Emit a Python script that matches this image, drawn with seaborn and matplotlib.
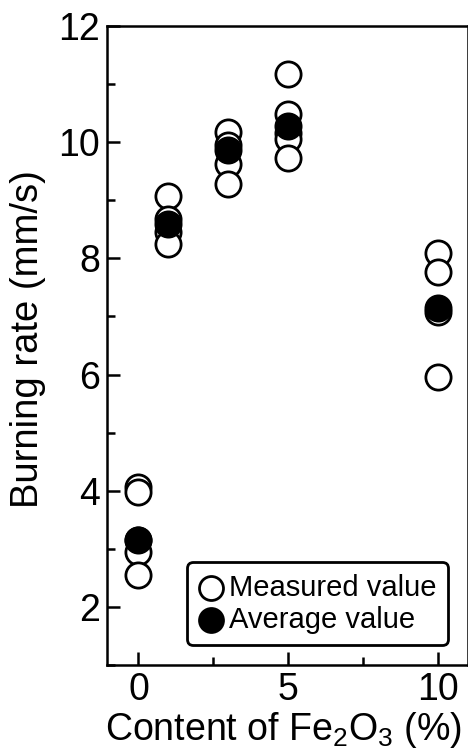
import matplotlib
matplotlib.use("Agg")
import matplotlib.pyplot as plt
from matplotlib.ticker import MultipleLocator
import seaborn as sns
import pandas as pd

# Fe2O3 content (%) and burning rates (mm/s)
content = [0, 1, 3, 5, 10]
measured = {
    0: [4.06, 3.98, 3.15, 2.95, 2.55],
    1: [9.08, 8.68, 8.45, 8.25],
    3: [10.18, 9.95, 9.63, 9.28],
    5: [11.17, 10.49, 10.15, 10.05, 9.72],
    10: [8.10, 7.77, 7.08, 5.95],
}
average = [3.15, 8.60, 9.87, 10.28, 7.14]

rows = [(c, v) for c in content for v in measured[c]]
df_meas = pd.DataFrame(rows, columns=["content", "rate"])
df_avg = pd.DataFrame({"content": content, "rate": average})

sns.set_theme(style="ticks")
plt.rcParams["font.family"] = ["Liberation Sans", "DejaVu Sans"]
plt.rcParams["mathtext.default"] = "regular"
plt.rcParams["text.color"] = "black"

fig = plt.figure(figsize=(4.68, 7.49), dpi=100)
ax = fig.add_axes([0.2286, 0.1121, 0.7714, 0.8532])

sns.scatterplot(data=df_meas, x="content", y="rate", ax=ax, s=330,
                color="white", edgecolor="black", linewidth=2.0,
                label="Measured value", zorder=3)
sns.scatterplot(data=df_avg, x="content", y="rate", ax=ax, s=330,
                color="black", edgecolor="black", linewidth=2.0,
                label="Average value", zorder=4)

ax.set_xlim(-1.05, 11.0)
ax.set_ylim(1, 12)
ax.xaxis.set_major_locator(MultipleLocator(5))
ax.xaxis.set_minor_locator(MultipleLocator(2.5))
ax.yaxis.set_major_locator(MultipleLocator(2))
ax.yaxis.set_minor_locator(MultipleLocator(1))
ax.set_yticks([2, 4, 6, 8, 10, 12])

ax.tick_params(which="major", direction="in", length=9.5, width=1.8,
               labelsize=27, pad=5, color="black", labelcolor="black")
ax.tick_params(which="minor", direction="in", length=5.5, width=1.8, color="black")
for sp in ax.spines.values():
    sp.set_linewidth(1.8)
    sp.set_color("black")

ax.set_xlabel("Content of Fe$_2$O$_3$ (%)", fontsize=27, color="black")
ax.set_ylabel("Burning rate (mm/s)", fontsize=27.5, color="black")
ax.xaxis.set_label_coords(0.49, -0.07)
ax.yaxis.set_label_coords(-0.17, 0.51)

leg = ax.legend(loc="lower right", bbox_to_anchor=(0.945, 0.031),
                borderaxespad=0, fontsize=21, frameon=True, fancybox=True,
                handletextpad=0.15, labelspacing=0.12, borderpad=0.4,
                handlelength=0.9, markerscale=0.95)
leg.get_frame().set_edgecolor("black")
leg.get_frame().set_linewidth(2.0)
leg.get_frame().set_alpha(1)
for t in leg.get_texts():
    t.set_color("black")

fig.savefig("out.png", dpi=100)
